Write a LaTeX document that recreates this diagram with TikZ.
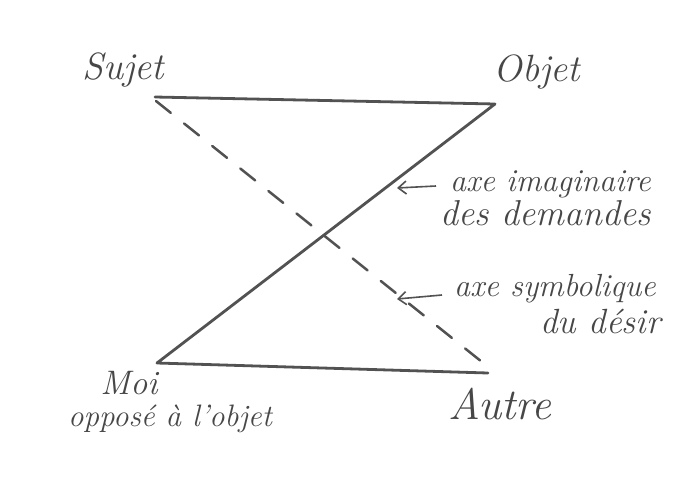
\documentclass[tikz,border=0pt]{standalone}
\usepackage{fontspec}
\usetikzlibrary{arrows.meta}
\tikzset{
  ink/.style={draw=black!68, line width=2.8pt, line cap=round, line join=round},
  lbl/.style={text=black!72, font=\fontsize{38}{40}\selectfont\itshape, inner sep=0pt},
  note/.style={text=black!72, font=\fontsize{32}{34}\selectfont\itshape, inner sep=0pt, anchor=west},
  pointer/.style={draw=black!68, line width=1.6pt, -{Straight Barb[length=8pt,width=13pt]}},
}
\begin{document}
\begin{tikzpicture}[x=1pt,y=-1pt]
\useasboundingbox[fill=white] (0,0) rectangle (692,477);
\coordinate (S) at (155,97);
\coordinate (O) at (495,104);
\coordinate (M) at (157,363);
\coordinate (A) at (488,373);
\coordinate (Sd) at (156,101);
\coordinate (Ad) at (492,370);
\node[lbl] (sujet) at (123,70) {Sujet};
\node[lbl] (objet) at (537,72) {Objet};
\node[lbl, font=\fontsize{34}{36}\selectfont\itshape] (moi) at (129,383) {Moi};
\node[lbl, font=\fontsize{31}{33}\selectfont\itshape] (oppose) at (170,419) {opposé à l'objet};
\node[lbl, font=\fontsize{44}{46}\selectfont\itshape] (autre) at (500,404) {Autre};
\draw[ink] (S) -- (O) -- (M) -- (A);
\draw[ink, line width=2.5pt, dash pattern=on 19pt off 17pt] (Sd) -- (Ad);
\node[note] (imag) at (450,184) {axe imaginaire};
\node[note, font=\fontsize{36}{38}\selectfont\itshape] (dem) at (440,213) {des demandes};
\node[note] (symb) at (454,289) {axe symbolique};
\node[note, anchor=east, font=\fontsize{35}{37}\selectfont\itshape] (desir) at (661,321) {du désir};
\coordinate (p1) at (397,188);
\coordinate (p2) at (397,299);
\draw[pointer] (imag.west) ++(-14,2) -- (p1);
\draw[pointer] (symb.west) ++(-12,6) -- (p2);
\end{tikzpicture}
\end{document}
